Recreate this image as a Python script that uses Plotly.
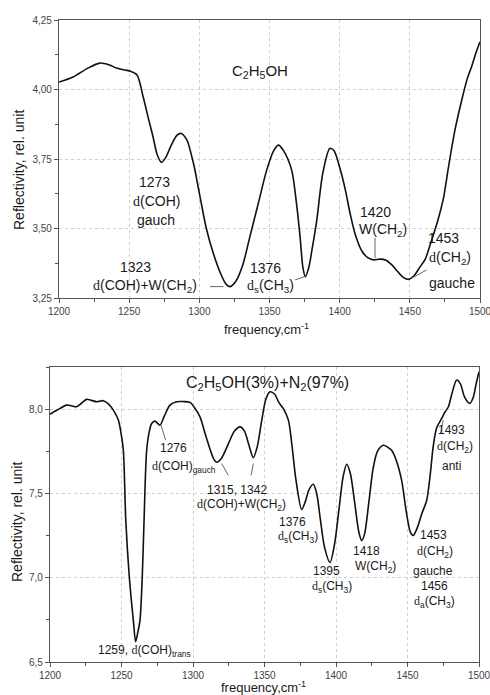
import plotly.graph_objects as go

# ---------------- data ----------------
freq_top = [1200, 1210, 1220, 1229, 1236, 1241, 1247, 1251, 1255.6, 1260, 1264, 1267, 1270, 1273,
            1276, 1280, 1284, 1287, 1291, 1296, 1300.5, 1305, 1310, 1315, 1319, 1322, 1326, 1331,
            1336, 1342, 1348, 1353, 1356.3, 1360, 1365.8, 1369, 1371.8, 1373.8, 1375.5, 1378, 1380.5,
            1383.7, 1388, 1393, 1396, 1400, 1404, 1407.4, 1411, 1415.7, 1420, 1424, 1429, 1433,
            1437, 1440.5, 1445, 1449, 1453, 1457, 1461, 1465, 1470, 1474, 1477.5, 1482, 1487,
            1491, 1494, 1497, 1500]
refl_top = [4.027, 4.045, 4.075, 4.095, 4.088, 4.077, 4.070, 4.066, 4.052, 3.973, 3.890, 3.830, 3.765, 3.738,
            3.755, 3.800, 3.835, 3.842, 3.820, 3.730, 3.614, 3.500, 3.410, 3.340, 3.300, 3.291, 3.310, 3.370,
            3.470, 3.590, 3.710, 3.780, 3.800, 3.780, 3.710, 3.600, 3.470, 3.360, 3.327, 3.360, 3.430,
            3.530, 3.700, 3.788, 3.780, 3.720, 3.640, 3.555, 3.480, 3.420, 3.395, 3.387, 3.390, 3.386,
            3.370, 3.350, 3.325, 3.317, 3.330, 3.360, 3.390, 3.450, 3.530, 3.610, 3.720, 3.850, 3.962,
            4.040, 4.082, 4.130, 4.172]

freq_bot = [1200, 1205, 1211.7, 1215, 1218.6, 1222, 1225.6, 1229, 1232.6, 1237.3, 1241, 1244.3, 1247.8,
            1250, 1251.3, 1253, 1255.5, 1258.3, 1259.9, 1261.5, 1262.9, 1264.5, 1265.7, 1267.6, 1269.5,
            1271.1, 1273.4, 1276.9, 1280, 1283.9, 1288.6, 1293, 1297.9, 1301, 1304.9, 1309, 1314.2,
            1316.6, 1320, 1325, 1329, 1332.9, 1336, 1339, 1342.2, 1345, 1348, 1351, 1353.8, 1357, 1360,
            1363.1, 1366.7, 1369, 1372, 1376, 1378.5, 1381, 1384.1, 1386.5, 1389, 1392, 1395.8, 1399,
            1402, 1405, 1407.5, 1410, 1413, 1416, 1418, 1420, 1423, 1426, 1429, 1433.1, 1436, 1438.9,
            1442, 1445.9, 1449, 1452, 1454, 1457, 1460, 1463.4, 1466, 1468, 1470.4, 1473.9, 1476,
            1478.6, 1481, 1484.4, 1487, 1490, 1493.7, 1496, 1498, 1500]
refl_bot = [7.970, 7.995, 8.024, 8.020, 8.014, 8.035, 8.058, 8.052, 8.044, 8.050, 8.030, 7.994, 7.935,
            7.840, 7.756, 7.340, 7.000, 6.744, 6.620, 6.680, 6.744, 7.000, 7.320, 7.756, 7.870,
            7.915, 7.929, 7.905, 7.960, 8.024, 8.044, 8.045, 8.040, 8.010, 7.954, 7.840, 7.710,
            7.685, 7.710, 7.800, 7.870, 7.895, 7.870, 7.790, 7.712, 7.780, 7.930, 8.060, 8.103, 8.090, 8.040,
            8.004, 7.935, 7.800, 7.580, 7.405, 7.450, 7.520, 7.554, 7.500, 7.350, 7.180, 7.091, 7.200,
            7.400, 7.600, 7.673, 7.620, 7.450, 7.270, 7.220, 7.260, 7.450, 7.650, 7.750, 7.786, 7.775, 7.756,
            7.700, 7.577, 7.400, 7.270, 7.250, 7.300, 7.380, 7.458, 7.620, 7.780, 7.890, 7.945, 7.980,
            8.014, 8.090, 8.173, 8.150, 8.070, 8.034, 8.070, 8.150, 8.222]

x_ticks = [1200, 1250, 1300, 1350, 1400, 1450, 1500]
y_ticks_top = [3.25, 3.50, 3.75, 4.00, 4.25]
y_ticks_bot = [6.5, 7.0, 7.5, 8.0]

# ---------------- figure ----------------
W, H = 490, 695
fig = go.Figure()
fig.add_trace(go.Scatter(x=freq_top, y=refl_top, mode="lines", xaxis="x", yaxis="y",
                         line=dict(color="#111111", width=1.6, shape="spline", smoothing=0.8),
                         showlegend=False, hoverinfo="skip"))
fig.add_trace(go.Scatter(x=freq_bot, y=refl_bot, mode="lines", xaxis="x2", yaxis="y2",
                         line=dict(color="#111111", width=1.6, shape="spline", smoothing=0.8),
                         showlegend=False, hoverinfo="skip"))

axis_common = dict(showline=True, mirror=True, linecolor="#555555", linewidth=1.3,
                   showgrid=True, gridcolor="#cfcfcf", griddash="dot", gridwidth=1,
                   ticks="outside", ticklen=4, tickcolor="#555555", zeroline=False,
                   tickfont=dict(family="Arial, Liberation Sans", size=10, color="#444444"),
                   ticklabeloverflow="allow", automargin=False)

fig.update_layout(
    width=W, height=H, margin=dict(l=0, r=0, t=0, b=0),
    paper_bgcolor="white", plot_bgcolor="white", separators=",.",
    xaxis=dict(domain=[59 / W, 480 / W], anchor="y", range=[1200, 1500], tickvals=x_ticks,
               tickformat="d", minor=dict(dtick=25, ticks="outside", ticklen=3, tickcolor="#555555",
                                          showgrid=False), **axis_common),
    yaxis=dict(domain=[1 - 298 / H, 1 - 20 / H], anchor="x", range=[3.25, 4.25], tickvals=y_ticks_top,
               tickformat=".2f", minor=dict(dtick=0.125, tick0=3.25, ticks="outside", ticklen=3,
                                            tickcolor="#555555", showgrid=False), **axis_common),
    xaxis2=dict(domain=[50 / W, 479 / W], anchor="y2", range=[1200, 1500], tickvals=x_ticks,
                tickformat="d", minor=dict(dtick=25, ticks="outside", ticklen=3, tickcolor="#555555",
                                           showgrid=False), **axis_common),
    yaxis2=dict(domain=[1 - 662 / H, 1 - 367 / H], anchor="x2", range=[6.5, 8.25], tickvals=y_ticks_bot,
                tickformat=".1f", minor=dict(dtick=0.25, tick0=6.5, ticks="outside", ticklen=3,
                                             tickcolor="#555555", showgrid=False), **axis_common),
)

D = '<span style="font-family:Liberation Serif">d</span>'
FONT = "Arial, Liberation Sans"

labels = [
    # (axis, x, y, text, size)
    (1, 1343.2, 4.064, "C<sub>2</sub>H<sub>5</sub>OH", 15),
    (1, 1268.4, 3.668, "1273", 14),
    (1, 1269.6, 3.598, D + "(COH)", 14),
    (1, 1269.0, 3.530, "gauch", 14),
    (1, 1254.2, 3.363, "1323", 14),
    (1, 1261.3, 3.293, D + "(COH)+W(CH<sub>2</sub>)", 14),
    (1, 1346.8, 3.357, "1376", 14),
    (1, 1350.4, 3.293, D + "<sub>s</sub>(CH<sub>3</sub>)", 14),
    (1, 1425.2, 3.560, "1420", 14),
    (1, 1431.1, 3.495, "W(CH<sub>2</sub>)", 14),
    (1, 1473.9, 3.465, "1453", 14),
    (1, 1478.6, 3.395, D + "(CH<sub>2</sub>)", 14),
    (1, 1479.8, 3.303, "gauche", 14),
    (2, 1352.4, 8.155, "C<sub>2</sub>H<sub>5</sub>OH(3%)+N<sub>2</sub>(97%)", 16),
    (2, 1286.2, 7.772, "1276", 12),
    (2, 1293.7, 7.655, D + "(COH)<sub>gauch</sub>", 12),
    (2, 1331.0, 7.518, "1315, 1342", 12),
    (2, 1334.1, 7.431, D + "(COH)+W(CH<sub>2</sub>)", 12),
    (2, 1369.7, 7.329, "1376", 12),
    (2, 1373.6, 7.242, D + "<sub>s</sub>(CH<sub>3</sub>)", 12),
    (2, 1393.5, 7.037, "1395", 12),
    (2, 1397.0, 6.944, D + "<sub>s</sub>(CH<sub>3</sub>)", 12),
    (2, 1421.5, 7.157, "1418", 12),
    (2, 1427.3, 7.063, "W(CH<sub>2</sub>)", 12),
    (2, 1468.0, 7.256, "1453", 12),
    (2, 1469.2, 7.153, D + "(CH<sub>2</sub>)", 12),
    (2, 1468.0, 7.037, "gauche", 12),
    (2, 1469.2, 6.952, "1456", 12),
    (2, 1469.2, 6.855, D + "<sub>a</sub>(CH<sub>3</sub>)", 12),
    (2, 1480.9, 7.875, "1493", 12),
    (2, 1483.2, 7.778, D + "(CH<sub>2</sub>)", 12),
    (2, 1480.9, 7.661, "anti", 12),
    (2, 1266.4, 6.567, "1259, " + D + "(COH)<sub>trans</sub>", 12),
]
for ax, x, y, t, s in labels:
    xr, yr = ("x", "y") if ax == 1 else ("x2", "y2")
    fig.add_annotation(x=x, y=y, xref=xr, yref=yr, text=t, showarrow=False,
                       font=dict(family=FONT, size=s, color="#1a1a1a"), xanchor="center", yanchor="middle")

leaders = [
    (1, 1307.6, 3.291, 1317.1, 3.291),
    (1, 1368.2, 3.315, 1375.3, 3.327),
    (1, 1425.2, 3.466, 1425.2, 3.393),
    (1, 1462.0, 3.351, 1451.3, 3.321),
    (2, 1277.6, 7.905, 1280.9, 7.815),
    (2, 1320.1, 7.677, 1324.7, 7.607),
    (2, 1342.2, 7.677, 1340.6, 7.607),
    (2, 1475.0, 7.935, 1473.1, 7.856),
]
for ax, x0, y0, x1, y1 in leaders:
    xr, yr = ("x", "y") if ax == 1 else ("x2", "y2")
    fig.add_shape(type="line", xref=xr, yref=yr, x0=x0, y0=y0, x1=x1, y1=y1,
                  line=dict(color="#666666", width=1))

# axis titles
for yc, xc in [(1 - 170 / H, 19 / W), (1 - 522 / H, 17 / W)]:
    fig.add_annotation(x=xc, y=yc, xref="paper", yref="paper", text="Reflectivity, rel. unit",
                       textangle=-90, showarrow=False, font=dict(family=FONT, size=14, color="#1a1a1a"),
                       xanchor="center", yanchor="middle")
for yc, xc in [(1 - 329 / H, 266 / W), (1 - 687 / H, 263 / W)]:
    fig.add_annotation(x=xc, y=yc, xref="paper", yref="paper", text="frequency,cm<sup>-1</sup>",
                       showarrow=False, font=dict(family=FONT, size=13, color="#1a1a1a"),
                       xanchor="center", yanchor="middle")

fig.write_html("out.html", config={"displayModeBar": False},
               post_script="document.body.style.margin='0';document.body.style.overflow='hidden';")
